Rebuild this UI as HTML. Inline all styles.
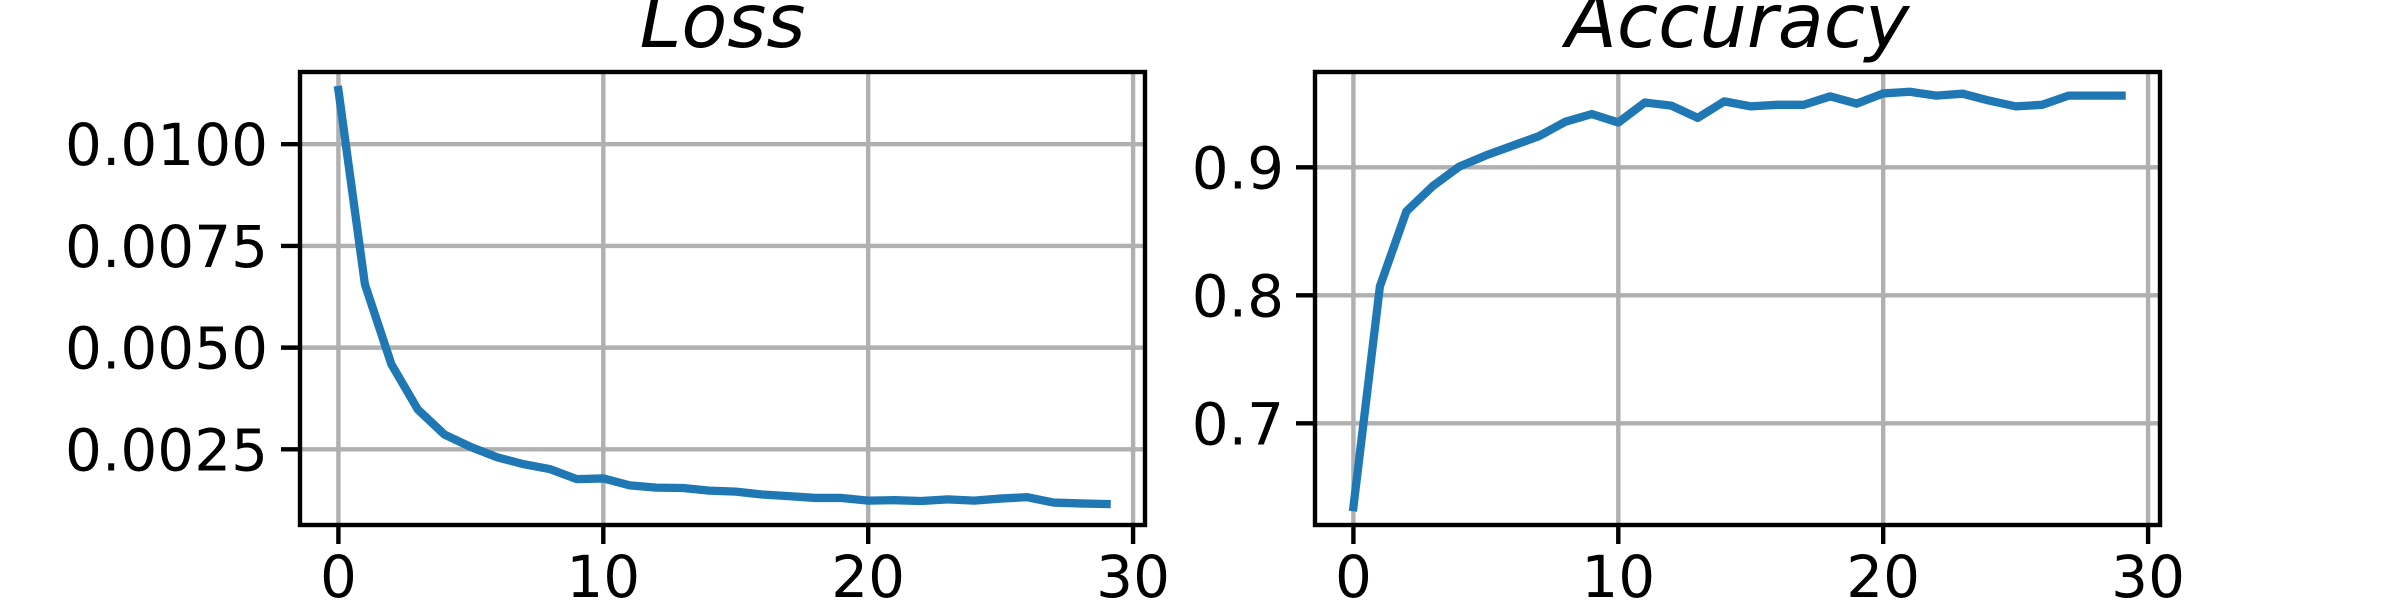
<!DOCTYPE html>
<html><head><meta charset="utf-8">
<style>
html,body{margin:0;padding:0;background:#fff;}
svg{display:block;font-family:"DejaVu Sans","Liberation Sans",sans-serif;}
</style></head>
<body>
<svg id="chart" width="2400" height="600" viewBox="0 0 2400 600" xmlns="http://www.w3.org/2000/svg">
<rect width="2400" height="600" fill="#fff"/>
</svg>
<script>
const epochs = [0,1,2,3,4,5,6,7,8,9,10,11,12,13,14,15,16,17,18,19,20,21,22,23,24,25,26,27,28,29];
const lossValues = [0.01133,0.006556,0.00459,0.003478,0.002866,0.002557,0.002303,0.002134,0.002011,0.001768,0.001785,0.001615,0.001559,0.00155,0.001485,0.00146,0.001389,0.00135,0.001305,0.001305,0.001239,0.00125,0.00123,0.00127,0.00124,0.00129,0.001325,0.001192,0.00117,0.001155];
const accValues = [0.6345,0.807,0.8656,0.8854,0.9006,0.9093,0.9168,0.9243,0.9356,0.9416,0.935,0.9506,0.9482,0.9386,0.9515,0.9476,0.9488,0.9488,0.9554,0.9497,0.9577,0.959,0.956,0.9575,0.9521,0.9476,0.9488,0.956,0.956,0.956];
const xTicks = [0,10,20,30];
const lossTicks = [0.0025,0.005,0.0075,0.01];
const lossTickLabels = ["0.0025","0.0050","0.0075","0.0100"];
const accTicks = [0.7,0.8,0.9];
const accTickLabels = ["0.7","0.8","0.9"];

const NS = "http://www.w3.org/2000/svg";
const svg = document.getElementById('chart');
function mk(tag, attrs, parent){
  const e = document.createElementNS(NS, tag);
  for (const k in attrs) e.setAttribute(k, attrs[k]);
  (parent||svg).appendChild(e);
  return e;
}

function panel(cfg){
  const g = mk('g', {});
  
  
  const L=cfg.left, R=cfg.right, T=72, B=525;
  const xmin=-1.45, xmax=30.45;
  const xs = v => L + (v - xmin)/(xmax - xmin)*(R-L);
  const ys = v => B - (v - cfg.ymin)/(cfg.ymax - cfg.ymin)*(B-T);
  xTicks.forEach(t=>{
    const l = mk('line',{x1:xs(t),x2:xs(t),y1:T,y2:B,stroke:'#b0b0b0','stroke-width':4.4},g);
    
    
  });
  cfg.yTicks.forEach(t=>{
    const l = mk('line',{x1:L,x2:R,y1:ys(t),y2:ys(t),stroke:'#b0b0b0','stroke-width':4.4},g);
    
    
  });
  const pts = epochs.map((e,i)=>xs(e).toFixed(2)+','+ys(cfg.values[i]).toFixed(2)).join(' ');
  const pl = mk('polyline',{points:pts,fill:'none',stroke:'#1f77b4','stroke-width':8.3,'stroke-linejoin':'round','stroke-linecap':'square'},g);
  
  
  const fr = mk('rect',{x:L,y:T,width:R-L,height:B-T,fill:'none',stroke:'#000','stroke-width':4.4},g);
  
  
  xTicks.forEach(t=>{
    const tk = mk('line',{x1:xs(t),x2:xs(t),y1:B,y2:B+19,stroke:'#000','stroke-width':4.4},g);
    
    
    const tx = mk('text',{x:xs(t),y:597,'font-size':58,'text-anchor':'middle',fill:'#000'},g);
    tx.textContent = String(t);
    
    
  });
  cfg.yTicks.forEach((t,i)=>{
    const tk = mk('line',{x1:L-19,x2:L,y1:ys(t),y2:ys(t),stroke:'#000','stroke-width':4.4},g);
    
    
    const tx = mk('text',{x:cfg.labelRight,y:ys(t)+21,'font-size':58,'text-anchor':'end',fill:'#000'},g);
    tx.textContent = cfg.yLabels[i];
    
    
  });
  const ti = mk('text',{x:(L+R)/2,y:47,'font-size':75,'font-style':'italic','text-anchor':'middle',fill:'#000'},g);
  ti.textContent = cfg.title;
  
  
}

panel({name:'loss',title:'Loss',left:300,right:1145,ymin:0.00064,ymax:0.011775,values:lossValues,yTicks:lossTicks,yLabels:lossTickLabels,labelRight:268});
panel({name:'accuracy',title:'Accuracy',left:1315,right:2160,ymin:0.62055,ymax:0.97445,values:accValues,yTicks:accTicks,yLabels:accTickLabels,labelRight:1284});
</script>
</body></html>
